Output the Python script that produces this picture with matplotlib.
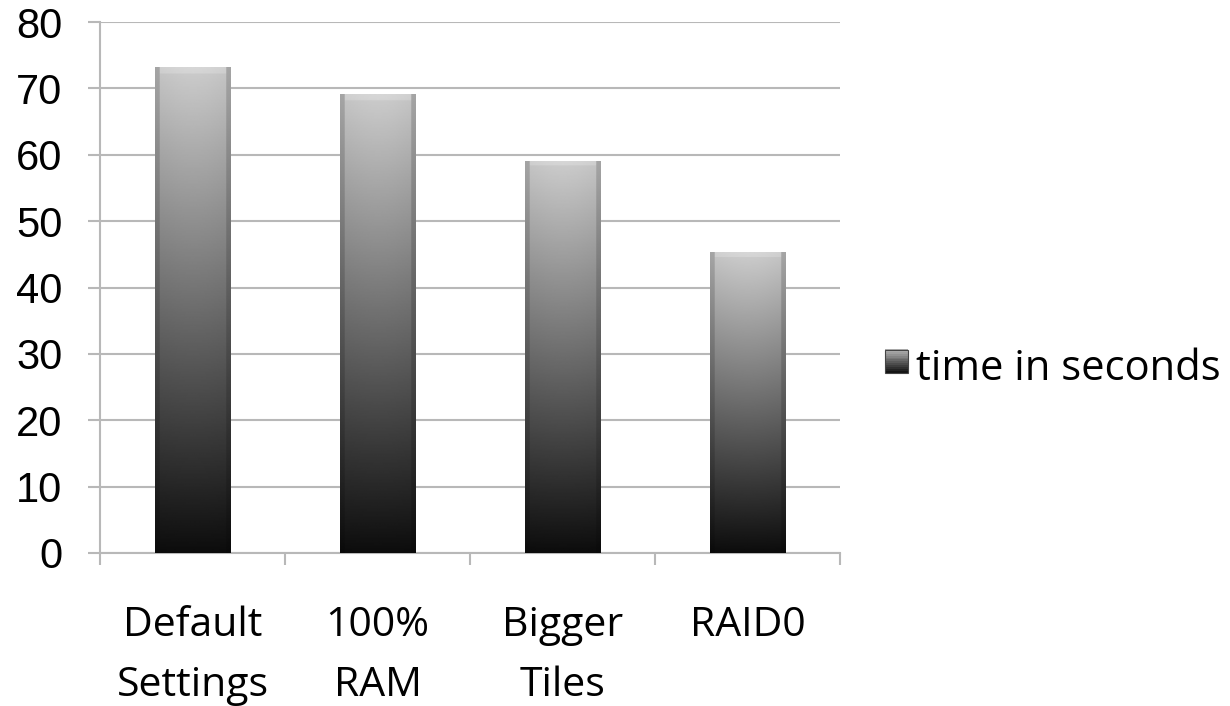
import numpy as np
import matplotlib
matplotlib.use("Agg")
import matplotlib.pyplot as plt
from matplotlib.patches import Rectangle
from matplotlib.legend_handler import HandlerBase

categories = ["Default\nSettings", "100%\nRAM", "Bigger\nTiles", "RAID0"]
values = [73.2, 69.1, 59.1, 45.3]
series_name = "time in seconds"
yticks = [0, 10, 20, 30, 40, 50, 60, 70, 80]

plt.rcParams['font.family'] = ['Open Sans', 'DejaVu Sans']

W, H = 1230, 706
fig = plt.figure(figsize=(W / 100, H / 100), dpi=100)
ax = fig.add_axes([100 / W, 1 - 553 / H, 740 / W, (553 - 22) / H])

bar_w = 0.41
xs = np.arange(len(values)) + 0.5
bars = ax.bar(xs, values, width=bar_w, color='none', edgecolor='none', zorder=3)


def bar_image(px_h, px_w=76):
    ny, nx = 300, 80
    t = np.linspace(0, 1, ny)[:, None]  # 0 bottom -> 1 top
    base = 0.05 + 0.75 * t
    img = np.repeat(base, nx, axis=1)
    u = np.linspace(0, 1, nx)[None, :]
    ef = 4 / px_w
    side = (u < ef) | (u > 1 - ef)
    img = np.where(side, img * 0.84, img)
    img = img * (0.96 + 0.04 * np.sin(np.pi * u))
    top = t > 1 - 5 / px_h
    img = np.where(top & ~side, np.minimum(img * 1.05, 0.86), img)
    bot = t < 4 / px_h
    img = np.where(bot & ~side, img * 0.6 + 0.02, img)
    return np.clip(img, 0, 1)


px_per_unit = (553 - 22) / 80
for b, v in zip(bars, values):
    x0 = b.get_x()
    img = bar_image(v * px_per_unit)
    im = ax.imshow(img, cmap='gray', vmin=0, vmax=1, origin='lower',
                   extent=[x0, x0 + bar_w, 0, v], aspect='auto',
                   interpolation='bilinear', zorder=3)
    im.set_clip_path(b)

ax.set_xlim(0, len(values))
ax.set_ylim(0, 80)
ax.set_yticks(yticks)
ax.set_yticklabels([str(t) for t in yticks], fontsize=30,
                   family=['Liberation Sans', 'DejaVu Sans'])
ax.set_xticks(np.arange(len(values) + 1))
ax.set_xticklabels([])
ax.set_xticks(xs, minor=True)
ax.set_xticklabels(categories, minor=True, fontsize=29.5, linespacing=1.62)
ax.tick_params(axis='x', which='minor', length=0, pad=38)
ax.tick_params(axis='x', which='major', length=8.6, width=1.5, color='#b8b8b8')
ax.tick_params(axis='y', length=8.6, width=1.5, color='#b8b8b8', pad=18.5)

ax.grid(axis='y', color='#b8b8b8', linewidth=1.5, zorder=0)
ax.set_axisbelow(True)
for s in ['top', 'right']:
    ax.spines[s].set_visible(False)
for s in ['left', 'bottom']:
    ax.spines[s].set_color('#b8b8b8')
    ax.spines[s].set_linewidth(1.5)


class GradHandler(HandlerBase):
    def create_artists(self, legend, orig_handle, xdescent, ydescent,
                       width, height, fontsize, trans):
        n = 12
        arts = []
        side = min(width, height)
        x0 = -xdescent + (width - side) / 2
        y0 = -ydescent + (height - side) / 2 + 3
        for i in range(n):
            g = 0.08 + 0.6 * i / (n - 1)
            r = Rectangle((x0, y0 + side * i / n), side, side / n + 0.3,
                          facecolor=(g, g, g), edgecolor='none', transform=trans)
            arts.append(r)
        arts.append(Rectangle((x0, y0), side, side, facecolor='none',
                              edgecolor='#444444', linewidth=0.8, transform=trans))
        return arts


handle = Rectangle((0, 0), 1, 1)
leg = ax.legend([handle], [series_name], handler_map={Rectangle: GradHandler()},
                loc='center left', bbox_to_anchor=(1.061, 0.346), frameon=False,
                fontsize=30, handlelength=0.55, handleheight=0.55, handletextpad=0.2,
                borderaxespad=0, borderpad=0)

fig.savefig("out.png", dpi=100, facecolor='white')
